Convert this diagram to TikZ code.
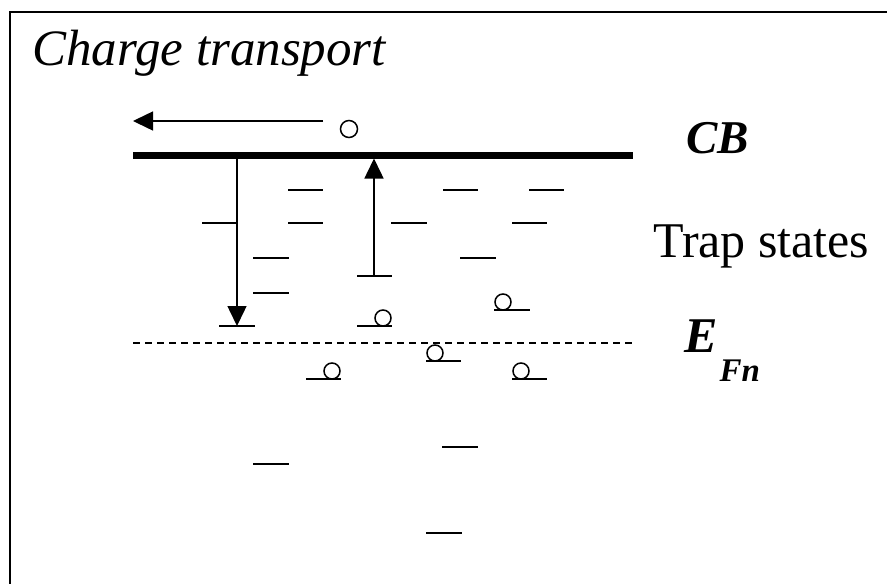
\documentclass[tikz,border=0pt]{standalone}
\usepackage{fontspec}
\setmainfont{Liberation Serif}
\usetikzlibrary{arrows.meta}
\begin{document}
\begin{tikzpicture}[x=1pt,y=-1pt,
  frameline/.style={line width=2.5pt},
  band/.style={line width=7pt},
  fermi/.style={line width=1.5pt,dash pattern=on 7pt off 5pt},
  level/.style={line width=2pt},
  hop/.style={line width=1.5pt,-{Triangle[length=20pt,width=19pt]}},
  electron/.style={draw,circle,line width=1.5pt,minimum size=16pt,inner sep=0pt},
  lbl/.style={inner sep=0pt,anchor=base west}]
\useasboundingbox (0,0) rectangle (887,584);

% open frame: top and left edges only
\coordinate (fTL) at (10,12);
\coordinate (fTR) at (887,12);
\coordinate (fBL) at (10,584);
\draw[frameline] (fTR) -- (fTL) -- (fBL);

% conduction band edge and quasi-Fermi level
\coordinate (cbL) at (133,155);
\coordinate (cbR) at (633,155);
\draw[band] (cbL) -- (cbR);
\coordinate (efL) at (133,343);
\coordinate (efR) at (633,343);
\draw[fermi] (efL) -- (efR);

% empty trap levels
\foreach \xa/\xb/\y in {288/323/190, 443/478/190, 529/564/190,
                        202/236/223, 288/323/223, 391/427/223, 512/547/223,
                        253/289/258, 460/496/258, 357/392/276, 253/289/293,
                        219/255/326, 253/289/464, 442/478/447, 426/462/533}
  \draw[level] (\xa,\y) -- (\xb,\y);

% occupied trap levels with their electrons
\foreach \xa/\xb/\y/\xc [count=\i] in {357/392/326/383, 494/530/310/503,
                                      426/461/361/435, 306/341/379/332,
                                      512/547/379/521} {
  \draw[level] (\xa,\y) -- (\xb,\y);
  \node[electron] (e\i) at (\xc,\y-8) {};
}

% free electron in the band and its drift
\node[electron,minimum size=17pt] (free) at (349,129) {};
\coordinate (driftS) at (323,121);
\coordinate (driftE) at (133,121);
\draw[hop] (driftS) -- (driftE);

% trapping and detrapping
\coordinate (trapS) at (237,158.5);
\coordinate (trapE) at (237,326);
\draw[hop] (trapS) -- (trapE);
\coordinate (detrapS) at (374,276);
\coordinate (detrapE) at (374,158.5);
\draw[hop] (detrapS) -- (detrapE);

% labels
\node[lbl,font=\fontsize{51}{60}\selectfont\itshape] (title) at (32,65) {Charge transport};
\node[lbl,font=\fontsize{47}{54}\selectfont\bfseries\itshape] (cb) at (686,153) {CB};
\node[lbl,font=\fontsize{50}{60}\selectfont] (traps) at (653,257) {Trap states};
\node[lbl,font=\fontsize{50}{60}\selectfont\bfseries\itshape] (efn) at (684,352)
  {E\kern2pt\raisebox{-29pt}{\fontsize{33}{40}\selectfont Fn}};
\end{tikzpicture}
\end{document}
